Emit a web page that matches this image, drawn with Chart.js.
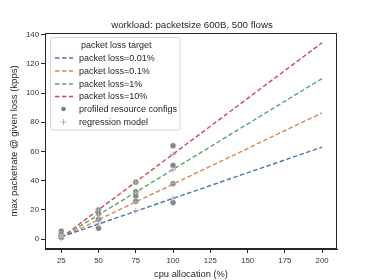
<!DOCTYPE html>
<html>
<head>
<meta charset="utf-8">
<script src="https://cdn.jsdelivr.net/npm/chart.js@4.4.1/dist/chart.umd.min.js"></script>
<style>
  html, body { margin: 0; padding: 0; background: #fff; }
  #myChart { display: block; }
</style>
</head>
<body>
<canvas id="myChart" width="374" height="280"></canvas>
<script>
const xTicks = [25, 50, 75, 100, 125, 150, 175, 200];
const yTicks = [0, 20, 40, 60, 80, 100, 120, 140];

// regression lines, one per loss target (endpoints at 25% and 200% cpu)
const lossTargets = ['packet loss=0.01%', 'packet loss=0.1%', 'packet loss=1%', 'packet loss=10%'];
const lineX = [25, 200];
const loss001 = [1.5, 63];
const loss01 = [1, 86.5];
const loss1 = [1, 110];
const loss10 = [1, 134.5];

// measured points
const profiledX = [25, 25, 25, 25, 50, 50, 50, 50, 75, 75, 75, 75, 100, 100, 100, 100];
const profiledY = [5.5, 3.2, 1.5, 1.2, 20, 17.5, 13.5, 7.5, 39, 32.5, 29.5, 26, 64, 50.5, 38, 25];

// model predictions
const modelX = [25, 25, 25, 25, 50, 50, 50, 50, 75, 75, 75, 75, 100, 100, 100, 100];
const modelY = [1, 1.2, 1.8, 2.6, 20, 16.6, 13.2, 10.5, 39, 32, 25.5, 19.5, 58, 47.5, 38, 28];

const colors = ['#4c72b0', '#dd8452', '#55a868', '#c44e52'];
const font = 'Liberation Sans, Arial, sans-serif';
const textColor = '#262626';

const pts = (xs, ys) => xs.map((x, i) => ({ x: x, y: ys[i] }));

const lineData = [loss001, loss01, loss1, loss10];

const lineSets = lineData.map((ys, i) => ({
    type: 'line',
    label: lossTargets[i],
    data: pts(lineX, ys),
    borderColor: colors[i],
    borderWidth: 1.4,
    borderDash: [4.5, 2.5],
    pointRadius: 0,
    fill: false,
}));

const framePlugin = {
    id: 'frame',
    afterDraw(chart) {
        const c = chart.ctx;
        const a = chart.chartArea;
        c.save();
        // frame
        c.strokeStyle = '#262626';
        c.lineWidth = 1;
        c.strokeRect(a.left + 0.5, a.top + 0.5, a.right - a.left - 1, a.bottom - a.top - 1);

        // title
        c.fillStyle = textColor;
        c.font = '9.7px ' + font;
        c.textAlign = 'center';
        c.textBaseline = 'middle';
        c.fillText('workload: packetsize 600B, 500 flows', 192, 25);

        // legend
        const lx = 50.5, ly = 37.5, lw = 129.5, lh = 92.5;
        c.fillStyle = 'rgba(255,255,255,0.85)';
        c.strokeStyle = '#d6d6d6';
        c.lineWidth = 1;
        c.beginPath();
        c.roundRect(lx, ly, lw, lh, 2);
        c.fill();
        c.stroke();

        c.fillStyle = textColor;
        c.font = '9px ' + font;
        c.textAlign = 'center';
        c.fillText('packet loss target', lx + lw / 2 + 1, 45.5);

        const rows = [58, 71, 84, 96.5, 109, 122];
        c.textAlign = 'left';
        lossTargets.forEach((label, i) => {
            c.strokeStyle = colors[i];
            c.lineWidth = 1.4;
            c.setLineDash([4.5, 2.5]);
            c.beginPath();
            c.moveTo(55, rows[i]);
            c.lineTo(73, rows[i]);
            c.stroke();
            c.setLineDash([]);
            c.fillStyle = textColor;
            c.fillText(label, 79, rows[i] + 0.5);
        });
        c.fillStyle = 'rgba(110,110,110,0.9)';
        c.beginPath();
        c.arc(63.5, rows[4], 2.3, 0, Math.PI * 2);
        c.fill();
        c.fillStyle = textColor;
        c.fillText('profiled resource configs', 79, rows[4] + 0.5);

        c.strokeStyle = '#b0b0b0';
        c.lineWidth = 1;
        c.beginPath();
        c.moveTo(60.5, rows[5]); c.lineTo(66.5, rows[5]);
        c.moveTo(63.5, rows[5] - 3); c.lineTo(63.5, rows[5] + 3);
        c.stroke();
        c.fillStyle = textColor;
        c.fillText('regression model', 79, rows[5] + 0.5);
        c.restore();
    }
};

const ctx = document.getElementById('myChart');

new Chart(ctx, {
    type: 'scatter',
    data: {
        datasets: [
            {
                label: 'regression model',
                data: pts(modelX, modelY),
                pointStyle: 'cross',
                pointRadius: 3,
                borderColor: '#b0b0b0',
                borderWidth: 1,
            },
            {
                label: 'profiled resource configs',
                data: pts(profiledX, profiledY),
                pointStyle: 'circle',
                pointRadius: 2.9,
                backgroundColor: 'rgba(110,110,110,0.85)',
                borderColor: 'rgba(255,255,255,0.7)',
                borderWidth: 0.5,
            },
            ...lineSets
        ]
    },
    options: {
        responsive: false,
        animation: false,
        layout: { padding: { top: 33, right: 37, left: 0, bottom: 0 } },
        plugins: {
            legend: { display: false },
            tooltip: { enabled: false },
        },
        scales: {
            x: {
                type: 'linear',
                min: 14.1,
                max: 210,
                afterBuildTicks: (s) => { s.ticks = xTicks.map(v => ({ value: v })); },
                afterFit: (s) => { s.height = 31; },
                grid: { drawOnChartArea: false, drawTicks: true, tickLength: 4, color: '#262626' },
                border: { display: true, color: '#262626' },
                ticks: { color: '#333', font: { family: font, size: 7.8 }, padding: 3, maxRotation: 0 },
                title: { display: true, text: 'cpu allocation (%)', color: textColor, font: { family: font, size: 9.3 }, padding: { top: 2, bottom: 0 } },
            },
            y: {
                type: 'linear',
                min: -6.8,
                max: 141.2,
                afterBuildTicks: (s) => { s.ticks = yTicks.map(v => ({ value: v })); },
                afterFit: (s) => { s.width = 45; },
                grid: { drawOnChartArea: false, drawTicks: true, tickLength: 4, color: '#262626' },
                border: { display: true, color: '#262626' },
                ticks: { color: '#333', font: { family: font, size: 7.8 }, padding: 2 },
                title: { display: true, text: 'max packetrate @ given loss (kpps)', color: textColor, font: { family: font, size: 9.5 }, padding: { top: 9, bottom: 0 } },
            }
        }
    },
    plugins: [framePlugin]
});
</script>
</body>
</html>
